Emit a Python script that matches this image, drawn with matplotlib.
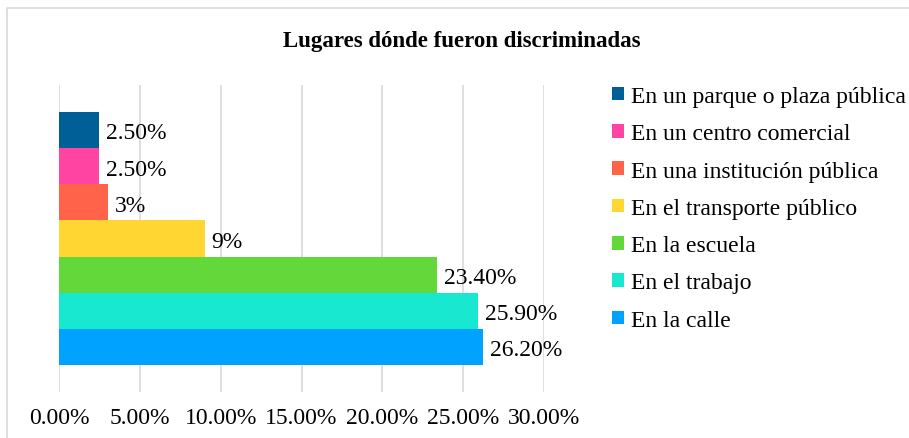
import matplotlib.pyplot as plt
from matplotlib.lines import Line2D

# Datos (de arriba hacia abajo en el gráfico)
lugares = ['En un parque o plaza pública', 'En un centro comercial',
           'En una institución pública', 'En el transporte público',
           'En la escuela', 'En el trabajo', 'En la calle']
valores = [0.025, 0.025, 0.03, 0.09, 0.234, 0.259, 0.262]
etiquetas = ['2.50%', '2.50%', '3%', '9%', '23.40%', '25.90%', '26.20%']
colores = ['#005F96', '#FF45A1', '#FF644A', '#FFD632', '#62D83A', '#17E8CF', '#00A2FF']
ticks = [0, 0.05, 0.10, 0.15, 0.20, 0.25, 0.30]

plt.rcParams['font.family'] = ['Liberation Serif', 'DejaVu Serif']
FS = 17

W, H = 909, 439
fig = plt.figure(figsize=(W / 100, H / 100), dpi=100)
ax = fig.add_axes([59 / W, (H - 393) / H, (544 - 59) / W, (393 - 86) / H])

n = len(valores)
ypos = list(range(n - 1, -1, -1))
handles = []
for y, v, c, lab, txt in zip(ypos, valores, colores, lugares, etiquetas):
    b = ax.barh(y, v, height=1.0, color=c, label=lab, zorder=3)
    handles.append(b)
    ax.annotate(txt, (v, y), xytext=(5, -2), textcoords='offset points',
                va='center', ha='left', fontsize=FS, color='#000000')

ax.set_ylim(-0.5 - 0.75, n - 0.5 + 0.75)
ax.set_xlim(0, 0.30)
ax.set_xticks(ticks)
ax.set_xticklabels([f'{t * 100:.2f}%' for t in ticks], fontsize=FS)
ax.set_yticks([])
ax.tick_params(axis='x', length=0, pad=11)
ax.grid(axis='x', color='#D9D9D9', linewidth=1.2, zorder=0)
for s in ax.spines.values():
    s.set_visible(False)

fig.text(462 / W, 1 - 41 / H, 'Lugares dónde fueron discriminadas',
         ha='center', va='center', fontsize=16.5, fontweight='bold')

fig.legend(handles=handles, loc='upper left',
           bbox_to_anchor=(612 / W, 1 - 87 / H), frameon=False,
           fontsize=FS, labelspacing=0.69, handlelength=0.5,
           handleheight=0.5, handletextpad=0.3, borderpad=0, borderaxespad=0)

# marco del gráfico (solo borde superior e izquierdo visibles)
fig.lines.append(Line2D([7 / W, 7 / W, 1], [0, 1 - 9 / H, 1 - 9 / H],
                        transform=fig.transFigure, color='#D9D9D9', linewidth=1.2))

fig.savefig('out.png', dpi=100)
